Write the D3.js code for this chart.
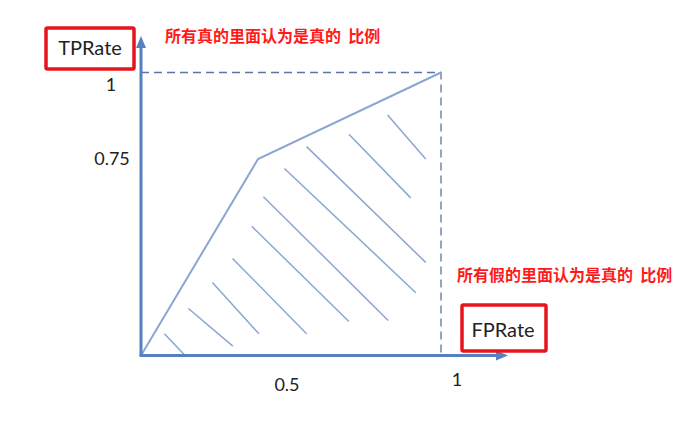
<!DOCTYPE html>
<html><head><meta charset="utf-8">
<script src="https://cdn.jsdelivr.net/npm/d3@7"></script>
<style>body{margin:0;background:#fff}svg{display:block}</style>
</head><body>
<svg id="c" width="689" height="426"></svg>
<script>
// ROC curve points (FPRate, TPRate)
const rocX = [0, 0.39, 1];
const rocY = [0, 0.694, 1];
// hatch segments under the curve: [x1,y1,x2,y2]
const hatchX1 = [0.078,0.158,0.238,0.305,0.369,0.408,0.478,0.552,0.693,0.822];
const hatchY1 = [0.077,0.166,0.258,0.343,0.457,0.561,0.661,0.738,0.782,0.850];
const hatchX2 = [0.147,0.306,0.393,0.552,0.693,0.824,0.916,0.949,0.899,0.949];
const hatchY2 = [0.000,0.033,0.077,0.077,0.120,0.124,0.222,0.329,0.557,0.694];
const xTickLabels = ["0.5","1"];
const xTickVals = [0.5, 1];
const yTickLabels = ["0.75","1"];
const yTickVals = [0.694, 1];
const yTitle = "TPRate";
const xTitle = "FPRate";
const noteTop = "所有真的里面认为是真的\u00a0\u00a0比例";
const noteRight = "所有假的里面认为是真的\u00a0\u00a0比例";

const svg = d3.select("#c");
const x = d3.scaleLinear().domain([0,1]).range([141,441]);
const y = d3.scaleLinear().domain([0,1]).range([355.5,72.5]);
const axisCol = "#5681bd", lineCol = "#8ba6d1", dashCol = "#5a76a8";

// hatch
svg.append("g").selectAll("line").data(hatchX1.map((d,i)=>i)).join("line")
  .attr("x1",i=>x(hatchX1[i])).attr("y1",i=>y(hatchY1[i]))
  .attr("x2",i=>x(hatchX2[i])).attr("y2",i=>y(hatchY2[i]))
  .attr("stroke",lineCol).attr("stroke-width",1.5);

// dashed box
svg.append("path")
  .attr("d",`M${x(0)},${y(1)}H${x(1)}V${y(0)}`)
  .attr("fill","none").attr("stroke",dashCol).attr("stroke-width",1.3).attr("stroke-dasharray","8,5");

// roc curve
svg.append("path").datum(rocX.map((d,i)=>[d,rocY[i]]))
  .attr("d",d3.line().x(d=>x(d[0])).y(d=>y(d[1])))
  .attr("fill","none").attr("stroke",lineCol).attr("stroke-width",2);

// axes with arrows
svg.append("line").attr("x1",x(0)).attr("y1",y(0)).attr("x2",x(0)).attr("y2",46)
  .attr("stroke",axisCol).attr("stroke-width",3);
svg.append("path").attr("d",`M${x(0)-5},48L${x(0)},36L${x(0)+5},48Z`).attr("fill",axisCol);
svg.append("line").attr("x1",x(0)-1.5).attr("y1",y(0)).attr("x2",498).attr("y2",y(0))
  .attr("stroke",axisCol).attr("stroke-width",3);
svg.append("path").attr("d",`M496,${y(0)-5}L508,${y(0)}L496,${y(0)+5}Z`).attr("fill",axisCol);

// tick labels
const font = "Lato, 'Open Sans', sans-serif";
svg.append("g").selectAll("text").data(xTickLabels).join("text")
  .attr("x",(d,i)=>x(xTickVals[i]) + (i===0?-4:16)).attr("y",(d,i)=>i===0?391:386)
  .attr("text-anchor","middle").attr("font-family",font).attr("font-size",18).attr("fill","#222").text(d=>d);
svg.append("g").selectAll("text").data(yTickLabels).join("text")
  .attr("x",(d,i)=>i===0?112:111).attr("y",(d,i)=>y(yTickVals[i])+ (i===0?6:18))
  .attr("text-anchor","middle").attr("font-family",font).attr("font-size",18).attr("fill","#222").text(d=>d);

// titles with red boxes
svg.append("rect").attr("x",46).attr("y",28).attr("width",88).attr("height",41)
  .attr("fill","none").attr("stroke","#e8141c").attr("stroke-width",3.5).attr("rx",1.5);
svg.append("text").attr("x",90).attr("y",55).attr("text-anchor","middle")
  .attr("font-family",font).attr("font-size",20).attr("fill","#222").text(yTitle);
svg.append("rect").attr("x",462).attr("y",305).attr("width",84).attr("height",46)
  .attr("fill","none").attr("stroke","#e8141c").attr("stroke-width",3.5).attr("rx",1.5);
svg.append("text").attr("x",503).attr("y",337).attr("text-anchor","middle")
  .attr("font-family",font).attr("font-size",20).attr("fill","#222").text(xTitle);

// red notes
const cjk = "'Noto Sans CJK SC', sans-serif";
svg.append("text").attr("x",165).attr("y",42).attr("font-family",cjk).attr("font-weight","bold")
  .attr("font-size",16).attr("fill","#ff1a1a").text(noteTop);
svg.append("text").attr("x",457).attr("y",281).attr("font-family",cjk).attr("font-weight","bold")
  .attr("font-size",16).attr("fill","#ff1a1a").text(noteRight);
</script>
</body></html>
